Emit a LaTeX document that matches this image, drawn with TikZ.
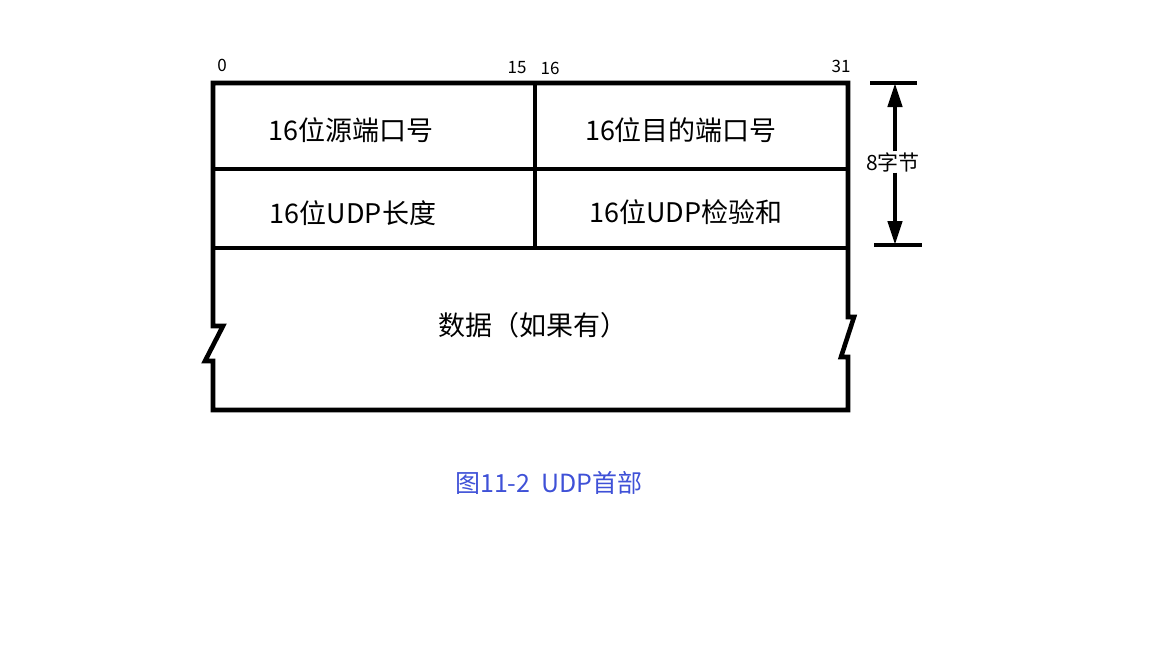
\documentclass[tikz,border=0pt]{standalone}
\usepackage{fontspec}
\setmainfont{Noto Sans CJK SC}
\usepackage{xcolor}
\definecolor{capblue}{HTML}{3F51D7}
\usetikzlibrary{arrows.meta}

\begin{document}
\begin{tikzpicture}[x=1pt,y=-1pt,every node/.style={inner sep=1,outer sep=0},
    field/.style={font=\fontsize{27}{32}\selectfont},
    bitno/.style={font=\fontsize{17}{20}\selectfont},
    frame/.style={line width=4.6pt},
    span/.style={line width=4.4pt,-{Triangle[length=24pt,width=14pt]}}]
    \useasboundingbox (0,0) rectangle (1152,648);

    % header frame, broken at both sides of the data part
    \draw[frame,line join=miter] (213,83) -- (848,83) -- (848,317) -- (854,317) -- (841,357)
      -- (848,357) -- (848,410) -- (213,410) -- (213,361) -- (205,361) -- (223,326)
      -- (213,326) -- cycle;
    \draw[frame] (213,169) -- (848,169);
    \draw[frame] (213,248) -- (848,248);
    \draw[frame] (535,83) -- (535,248);

    % bit numbers
    \node(b0)[bitno] at (222,65) {0};
    \node(b15)[bitno] at (517,68) {15};
    \node(b16)[bitno] at (550,68) {16};
    \node(b31)[bitno] at (841,66) {31};

    \node(src)[field] at (351,130) {16位源端口号};
    \node(dst)[field] at (681,130) {16位目的端口号};
    \node(len)[field] at (353,213) {16位UDP长度};
    \node(sum)[field] at (686,212) {16位UDP检验和};
    \node(data)[field] at (533,325) {数据（如果有）};

    % 8 bytes
    \draw[frame] (870,83) -- (917,83);
    \draw[frame] (874,245) -- (922,245);
    \coordinate(top) at (895,83);
    \coordinate(bot) at (895,245);
    \node(size)[font=\fontsize{21}{25}\selectfont] at (893,162) {8字节};
    \draw[span] (size.north -| top) -- (top);
    \draw[span] (size.south -| bot) -- (bot);

    \node(cap)[font=\fontsize{25}{30}\selectfont,text=capblue] at (549,483) {图11-2\ \ UDP首部};
\end{tikzpicture}
\end{document}
